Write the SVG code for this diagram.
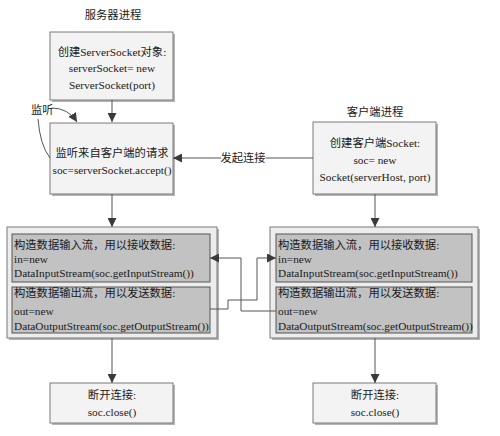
<svg xmlns="http://www.w3.org/2000/svg" width="500" height="436" viewBox="0 0 500 436">
<style>
text{font-family:"Liberation Serif","Noto Sans CJK SC",serif;font-size:11.3px;fill:#1a1a1a}
.c{text-anchor:middle}
.box{fill:#f3f3f3;stroke:#7a7a7a;stroke-width:1}
.sh{fill:#b4b4b4}
.outer{fill:#ececec;stroke:#7a7a7a;stroke-width:1}
.inner{fill:#c2c2c2;stroke:#555;stroke-width:1}
.ln{fill:none;stroke:#555;stroke-width:1}
</style>
<defs>
<marker id="ah" viewBox="0 0 10 10" refX="10" refY="5" markerWidth="9" markerHeight="9" markerUnits="userSpaceOnUse" orient="auto">
<path d="M0,0 L10,5 L0,10 z" fill="#3a3a3a"/>
</marker>
</defs>
<rect width="500" height="436" fill="#fff"/>

<g id="title-server"><text class="c" x="113" y="19">服务器进程</text></g>
<g id="title-client"><text class="c" x="375" y="116">客户端进程</text></g>

<g id="server-create">
<rect class="sh" x="52" y="34" width="123" height="68"/>
<rect class="box" x="50" y="32" width="123" height="68"/>
<text class="c" x="112" y="56">创建ServerSocket对象:</text>
<text class="c" x="112" y="72">serverSocket= new</text>
<text class="c" x="112" y="89">ServerSocket(port)</text>
</g>

<g id="server-accept">
<rect class="sh" x="52" y="125" width="123" height="71"/>
<rect class="box" x="50" y="123" width="123" height="71"/>
<text class="c" x="112" y="157">监听来自客户端的请求</text>
<text class="c" x="112" y="174">soc=serverSocket.accept()</text>
</g>

<g id="client-create">
<rect class="sh" x="315" y="124" width="123" height="72"/>
<rect class="box" x="313" y="122" width="123" height="72"/>
<text class="c" x="375" y="147">创建客户端Socket:</text>
<text class="c" x="375" y="164">soc= new</text>
<text class="c" x="375" y="181">Socket(serverHost, port)</text>
</g>

<g id="server-streams">
<rect class="sh" x="9" y="229" width="210" height="111"/>
<rect class="outer" x="7" y="227" width="210" height="111"/>
<rect class="inner" x="12" y="234" width="198" height="48"/>
<rect class="inner" x="12" y="287" width="198" height="46"/>
<text x="14" y="249">构造数据输入流，用以接收数据:</text>
<text x="14" y="263">in=new</text>
<text x="14" y="277">DataInputStream(soc.getInputStream())</text>
<text x="14" y="297">构造数据输出流，用以发送数据:</text>
<text x="14" y="315">out=new</text>
<text x="14" y="330">DataOutputStream(soc.getOutputStream())</text>
</g>

<g id="client-streams">
<rect class="sh" x="272" y="229" width="208" height="111"/>
<rect class="outer" x="270" y="227" width="208" height="111"/>
<rect class="inner" x="276" y="234" width="196" height="48"/>
<rect class="inner" x="276" y="287" width="196" height="46"/>
<text x="278" y="249">构造数据输入流，用以接收数据:</text>
<text x="278" y="263">in=new</text>
<text x="278" y="277">DataInputStream(soc.getInputStream())</text>
<text x="278" y="297">构造数据输出流，用以发送数据:</text>
<text x="278" y="315">out=new</text>
<text x="278" y="330">DataOutputStream(soc.getOutputStream())</text>
</g>

<g id="server-close">
<rect class="sh" x="52" y="385" width="123" height="40"/>
<rect class="box" x="50" y="383" width="123" height="40"/>
<text class="c" x="112" y="399">断开连接:</text>
<text class="c" x="112" y="416">soc.close()</text>
</g>

<g id="client-close">
<rect class="sh" x="315" y="385" width="123" height="40"/>
<rect class="box" x="313" y="383" width="123" height="40"/>
<text class="c" x="375" y="399">断开连接:</text>
<text class="c" x="375" y="416">soc.close()</text>
</g>

<g id="listen-label"><text x="31" y="114">监听</text></g>

<g id="connectors">
<path class="ln" d="M112,100 V122" marker-end="url(#ah)"/>
<path class="ln" d="M112,194 V227" marker-end="url(#ah)"/>
<path class="ln" d="M375,194 V227" marker-end="url(#ah)"/>
<path class="ln" d="M112,338 V383" marker-end="url(#ah)"/>
<path class="ln" d="M375,338 V383" marker-end="url(#ah)"/>
<path class="ln" d="M52,108 Q68,108 77,122" marker-end="url(#ah)"/>
<path class="ln" d="M38,119 Q40,145 50,158"/>
<path class="ln" d="M313,158 H266"/>
<path class="ln" d="M221,158 H173" marker-end="url(#ah)"/>
<text x="243" y="162" class="c">发起连接</text>
<path class="ln" d="M210,309 H228 V300 H257 V258 H276" marker-end="url(#ah)"/>
<path class="ln" d="M276,311 H241 V258 H210" marker-end="url(#ah)"/>
</g>
</svg>
